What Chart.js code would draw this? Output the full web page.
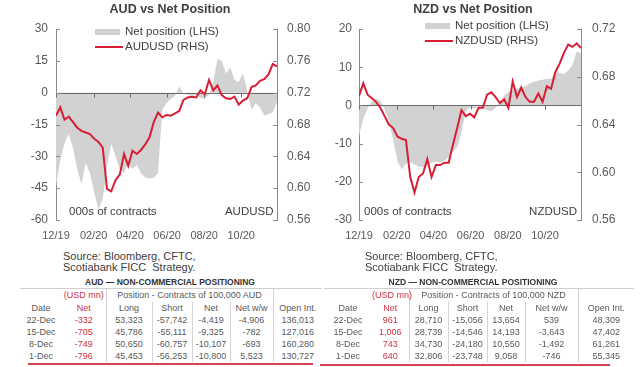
<!DOCTYPE html>
<html>
<head>
  <meta charset="utf-8">
  <script src="https://cdn.jsdelivr.net/npm/chart.js@4.4.1/dist/chart.umd.min.js"></script>
  <style>
    body { margin: 0; background: #fff; font-family: 'Liberation Sans', Arial, sans-serif; }
    #wrap { position: relative; width: 640px; height: 367px; overflow: hidden; background: #fff; }
    canvas { position: absolute; top: 0; }
    .src { position: absolute; top: 251px; font-size: 11px; line-height: 11px; color: #404040; white-space: nowrap; }
    .ttl { position: absolute; top: 277px; width: 300px; text-align: center; font-size: 8.5px; line-height: 10px; font-weight: bold; color: #333; }
    table { position: absolute; top: 288px; border-collapse: collapse; table-layout: fixed; font-size: 9px; color: #595959; border-top: 1px solid #cfcfcf; }
    td { padding: 0; text-align: center; white-space: nowrap; height: 12px; line-height: 12px; overflow: visible; }
    tr.h1 td { height: 13px; line-height: 13px; }
    td.vl { border-left: 1px solid #d4d4d4; }
    td.red { color: #cc3344; }
    .redline { position: absolute; height: 1.5px; background: #d9434f; }
  </style>
</head>
<body>
<div id="wrap">
  <canvas id="audChart" width="340" height="245" style="left:0px"></canvas>
  <canvas id="nzdChart" width="334" height="245" style="left:306px"></canvas>

  <div class="src" style="left:63px">Source: Bloomberg, CFTC,<br>Scotiabank FICC&nbsp; Strategy.</div>
  <div class="src" style="left:365px">Source: Bloomberg, CFTC,<br>Scotiabank FICC&nbsp; Strategy.</div>

  <div class="ttl" style="left:20px">AUD — NON-COMMERCIAL POSITIONING</div>
  <div class="ttl" style="left:323px">NZD — NON-COMMERCIAL POSITIONING</div>
  <table id="audTable" style="left:20px"></table>
  <table id="nzdTable" style="left:324px"></table>
  <div class="redline" style="left:28px; width:285px; top:363px"></div>
  <div class="redline" style="left:320px; width:290px; top:364px"></div>
</div>

<script>
  // weekly CFTC dates, 24-Dec-2019 .. 22-Dec-2020
  const startDate = '2019-12-24';
  const tickLabels = ['12/19', '02/20', '04/20', '06/20', '08/20', '10/20'];
  const tickDates = ['2019-12-24', '2020-02-24', '2020-04-24', '2020-06-24', '2020-08-24', '2020-10-24'];

  // AUD net position (000s of contracts) and AUDUSD
  const audNet = [-44, -32, -24, -19.5, -26, -36, -43, -33, -38, -47, -55, -50, -35, -24, -30, -36, -38, -33,
    -36, -34, -38, -40, -40.5, -40, -38, -8, -5, -3, -1.5, 3, -0.5, -1, -1.5, -1, -2.5, -3, -1, 5, 16, 15,
    9, 12, 6, 5, 9, 1, -8, -5, -7, -10.8, -10.1, -9.3, -4.4];
  const audUsd = [0.691, 0.7015, 0.686, 0.690, 0.683, 0.676, 0.672, 0.670, 0.668, 0.662, 0.658, 0.651, 0.599,
    0.596, 0.610, 0.617, 0.643, 0.628, 0.647, 0.643, 0.648, 0.655, 0.664, 0.683, 0.695, 0.689, 0.692, 0.691,
    0.694, 0.697, 0.711, 0.714, 0.715, 0.714, 0.723, 0.718, 0.736, 0.723, 0.729, 0.717, 0.713, 0.712, 0.715,
    0.705, 0.710, 0.713, 0.727, 0.729, 0.735, 0.737, 0.743, 0.756, 0.753];

  // NZD net position (000s of contracts) and NZDUSD
  const nzdNet = [-8, -3.5, -0.8, 1, 1.8, 1.2, -1, -4, -9, -14.5, -16.8, -15.3, -14.8, -15.5, -16, -16.2, -15.8,
    -15, -14.8, -15, -14.5, -13.5, -12, -11, -7, -1.5, -0.5, -0.8, -0.3, -0.8, -1.2, -1.5, -0.6, 0.8, 2.5,
    3.5, 4, 4.4, 4.7, 5, 5.8, 6.2, 6.5, 6.7, 7, 7, 9, 8.5, 8.3, 9.06, 10.55, 14.19, 13.65];
  const nzdUsd = [0.664, 0.6745, 0.665, 0.662, 0.659, 0.654, 0.647, 0.640, 0.637, 0.630, 0.628, 0.627, 0.596,
    0.583, 0.596, 0.599, 0.611, 0.596, 0.606, 0.606, 0.608, 0.608, 0.623, 0.637, 0.652, 0.647, 0.649, 0.646,
    0.654, 0.654, 0.665, 0.667, 0.663, 0.658, 0.661, 0.654, 0.676, 0.663, 0.671, 0.663, 0.659, 0.659, 0.666,
    0.659, 0.672, 0.670, 0.684, 0.691, 0.700, 0.707, 0.705, 0.708, 0.704];

  // tables
  const tblDates = ['22-Dec', '15-Dec', '8-Dec', '1-Dec'];
  const audUsdMn = ['-332', '-705', '-749', '-796'];
  const audLong = ['53,323', '45,786', '50,650', '45,453'];
  const audShort = ['-57,742', '-55,111', '-60,757', '-56,253'];
  const audNetC = ['-4,419', '-9,325', '-10,107', '-10,800'];
  const audNetWW = ['-4,906', '-782', '-693', '5,523'];
  const audOI = ['136,013', '127,016', '160,280', '130,727'];
  const nzdUsdMn = ['961', '1,006', '743', '640'];
  const nzdLong = ['28,710', '28,739', '34,730', '32,806'];
  const nzdShort = ['-15,056', '-14,546', '-24,180', '-23,748'];
  const nzdNetC = ['13,654', '14,193', '10,550', '9,058'];
  const nzdNetWW = ['539', '-3,643', '-1,492', '-746'];
  const nzdOI = ['48,309', '47,402', '61,261', '55,345'];

  const FONT = "'Liberation Sans', Arial, sans-serif";
  const RED = '#d81e34';
  const GREY = '#d2d2d2';
  const AXIS = '#8a8a8a';
  const TXT = '#595959';
  Chart.defaults.font.family = FONT;

  const DAY = 86400000;
  const dayOf = s => (Date.parse(s) - Date.parse(startDate)) / DAY;
  const weekDays = audNet.map((_, i) => i * 7);
  const tickDays = tickDates.map(dayOf);

  // zero line, inner ticks, legend and corner notes
  const decor = {
    id: 'decor',
    beforeDatasetDraw(chart, args) {
      if (args.index !== 0) return;
      const { ctx, chartArea: a, scales: { x, yL } } = chart;
      const y0 = Math.round(yL.getPixelForValue(0)) + 0.5;
      ctx.save();
      ctx.strokeStyle = '#6a6a6a';
      ctx.lineWidth = 1;
      ctx.beginPath();
      ctx.moveTo(a.left, y0);
      ctx.lineTo(a.right, y0);
      x.ticks.forEach(t => {
        const px = Math.round(x.getPixelForValue(t.value)) + 0.5;
        ctx.moveTo(px, y0);
        ctx.lineTo(px, y0 + 4);
      });
      ctx.stroke();
      ctx.restore();
    },
    afterDraw(chart, args, o) {
      const { ctx, chartArea: a, scales: { yL, yR } } = chart;
      ctx.save();
      ctx.strokeStyle = AXIS;
      ctx.lineWidth = 1;
      ctx.beginPath();
      yL.ticks.forEach(t => {
        const py = Math.round(yL.getPixelForValue(t.value)) + 0.5;
        ctx.moveTo(a.left, py); ctx.lineTo(a.left + 4, py);
      });
      yR.ticks.forEach(t => {
        const py = Math.round(yR.getPixelForValue(t.value)) + 0.5;
        ctx.moveTo(a.right, py); ctx.lineTo(a.right - 4, py);
      });
      ctx.stroke();

      // legend
      const ds = chart.data.datasets;
      ctx.font = '11.5px ' + FONT;
      ctx.textBaseline = 'middle';
      ctx.textAlign = 'left';
      ctx.fillStyle = GREY;
      ctx.fillRect(o.legendX, o.legendY[0] - 3, 25, 6);
      ctx.fillStyle = '#404040';
      ctx.fillText(ds[1].label, o.legendX + 30, o.legendY[0]);
      ctx.strokeStyle = RED;
      ctx.lineWidth = 2;
      ctx.beginPath();
      ctx.moveTo(o.legendX, o.legendY[1]);
      ctx.lineTo(o.legendX + 28, o.legendY[1]);
      ctx.stroke();
      ctx.fillText(ds[0].label, o.legendX + 30, o.legendY[1]);

      // notes inside plot
      ctx.fillText(o.noteLeft, o.noteLeftX, o.noteY);
      ctx.textAlign = 'right';
      ctx.fillText(o.noteRight, o.noteRightX, o.noteY);
      ctx.restore();
    }
  };

  function makeChart(id, title, netData, fxData, fxLabel, leftAxis, rightAxis, sizes, deco) {
    return new Chart(document.getElementById(id).getContext('2d'), {
      type: 'line',
      data: {
        datasets: [
          {
            label: fxLabel,
            data: fxData.map((v, i) => ({ x: weekDays[i], y: v })),
            yAxisID: 'yR',
            borderColor: RED,
            borderWidth: 2,
            pointRadius: 0,
            tension: 0,
            fill: false
          },
          {
            label: 'Net position (LHS)',
            data: netData.map((v, i) => ({ x: weekDays[i], y: v })),
            yAxisID: 'yL',
            borderColor: 'transparent',
            borderWidth: 0,
            backgroundColor: GREY,
            pointRadius: 0,
            tension: 0,
            fill: 'origin'
          }
        ]
      },
      options: {
        responsive: false,
        animation: false,
        devicePixelRatio: 1,
        layout: { padding: 0 },
        plugins: {
          legend: { display: false },
          tooltip: { enabled: false },
          title: {
            display: true,
            text: title,
            color: '#404040',
            font: { family: FONT, size: 12.5, weight: 'bold', lineHeight: 1.2 },
            padding: { top: 2, bottom: 12 }
          },
          decor: deco
        },
        scales: {
          x: {
            type: 'linear',
            min: 0,
            max: weekDays[weekDays.length - 1],
            grid: { display: false, drawTicks: false },
            border: { display: false },
            afterBuildTicks: s => { s.ticks = tickDays.map(v => ({ value: v })); },
            afterFit: s => { s.height = 25; },
            ticks: {
              autoSkip: false,
              maxRotation: 0,
              padding: 9,
              color: TXT,
              font: { size: 11 },
              callback: (v, i) => tickLabels[i]
            }
          },
          yL: {
            position: 'left',
            min: leftAxis.min,
            max: leftAxis.max,
            grid: { display: false, drawTicks: false },
            border: { display: true, color: AXIS, width: 1 },
            afterFit: s => { s.width = sizes.left; },
            ticks: { stepSize: leftAxis.step, padding: sizes.padL, color: TXT, font: { size: 12 } }
          },
          yR: {
            position: 'right',
            min: rightAxis.min,
            max: rightAxis.max,
            grid: { display: false, drawTicks: false },
            border: { display: true, color: AXIS, width: 1 },
            afterFit: s => { s.width = sizes.right; },
            ticks: {
              stepSize: rightAxis.step,
              padding: sizes.padR,
              color: TXT,
              font: { size: 12 },
              callback: v => v.toFixed(2)
            }
          }
        }
      },
      plugins: [decor]
    });
  }

  makeChart('audChart', 'AUD vs Net Position', audNet, audUsd, 'AUDUSD (RHS)',
    { min: -60, max: 30, step: 15 }, { min: 0.56, max: 0.80, step: 0.04 },
    { left: 56, right: 63, padL: 8, padR: 10 },
    { legendX: 95, legendY: [32, 47], noteLeft: '000s of contracts', noteRight: 'AUDUSD', noteLeftX: 69, noteRightX: 273.5, noteY: 212 });

  makeChart('nzdChart', 'NZD vs Net Position', nzdNet, nzdUsd, 'NZDUSD (RHS)',
    { min: -30, max: 20, step: 10 }, { min: 0.56, max: 0.72, step: 0.04 },
    { left: 53, right: 59, padL: 7, padR: 11 },
    { legendX: 119, legendY: [26, 41], noteLeft: '000s of contracts', noteRight: 'NZDUSD', noteLeftX: 58, noteRightX: 271, noteY: 212 });

  // positioning tables
  function fillTable(id, cur, widths, usd, lng, sht, net, netww, oi) {
    const t = document.getElementById(id);
    let html = '<colgroup>' + widths.map(w => '<col style="width:' + w + 'px">').join('') + '</colgroup>';
    html += '<tr class="h1"><td></td><td class="red">(USD mn)</td>' +
      '<td class="vl" colspan="4">Position - Contracts of 100,000 ' + cur + '</td><td class="vl"></td></tr>';
    html += '<tr><td>Date</td><td class="red">Net</td><td class="vl">Long</td><td class="vl">Short</td>' +
      '<td class="vl">Net</td><td class="vl">Net w/w</td><td class="vl">Open Int.</td></tr>';
    tblDates.forEach((d, i) => {
      html += '<tr><td>' + d + '</td><td class="red">' + usd[i] + '</td><td class="vl">' + lng[i] +
        '</td><td class="vl">' + sht[i] + '</td><td class="vl">' + net[i] + '</td><td class="vl">' + netww[i] +
        '</td><td class="vl">' + oi[i] + '</td></tr>';
    });
    t.innerHTML = html;
    t.style.width = widths.reduce((s, w) => s + w, 0) + 'px';
  }

  fillTable('audTable', 'AUD', [42, 44, 46, 40, 38, 43, 49], audUsdMn, audLong, audShort, audNetC, audNetWW, audOI);
  fillTable('nzdTable', 'NZD', [48, 37, 39, 39, 38, 53, 56], nzdUsdMn, nzdLong, nzdShort, nzdNetC, nzdNetWW, nzdOI);
</script>
</body>
</html>
